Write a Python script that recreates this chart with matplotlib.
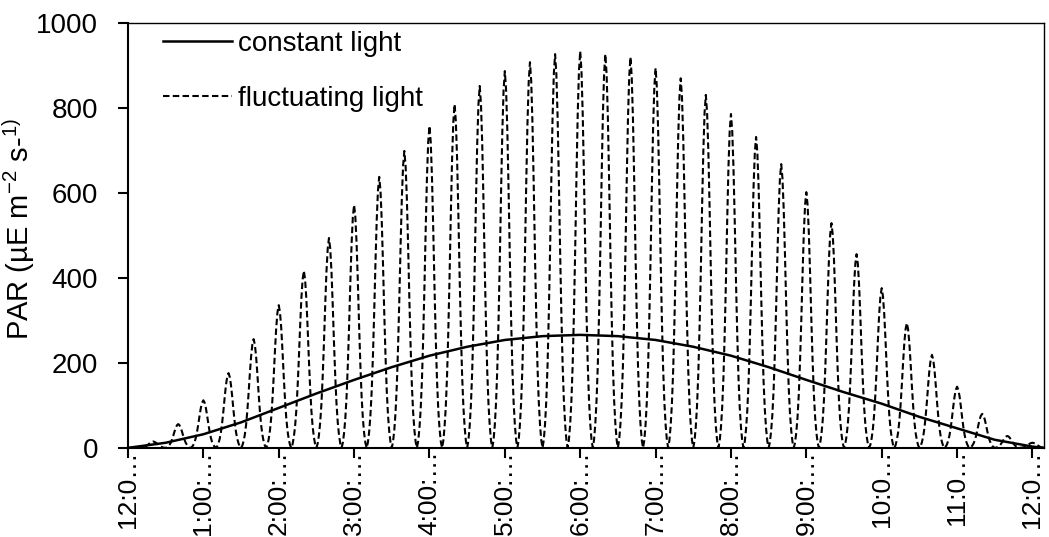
import numpy as np
import matplotlib.pyplot as plt

plt.rcParams['font.family'] = ['Liberation Sans', 'DejaVu Sans']

# constant light, read every half hour (hours after 12:00)
const_hours = [0, 0.5, 1, 1.5, 2, 2.5, 3, 3.5, 4, 4.5, 5, 5.5, 6, 6.5,
               7, 7.5, 8, 8.5, 9, 9.5, 10, 10.5, 11, 11.5, 12, 12.15]
const_par = [0, 12, 32, 60, 94, 128, 160, 190, 217, 238, 254, 263, 266, 263,
             254, 238, 217, 190, 160, 131, 104, 73, 46, 19, 3, 0]

# fluctuating light: one pulse every 20 min, peak heights
pulse_hours = [k / 3 for k in range(37)]
pulse_peaks = [0, 15, 56, 112, 176, 256, 336, 417, 494, 572, 638, 699, 758,
               809, 852, 887, 908, 927, 934, 927, 920, 894, 870, 831, 786,
               732, 668, 602, 529, 456, 376, 294, 219, 144, 80, 28, 12]
# shape of one pulse (fraction of the 20 min cycle -> fraction of peak)
pulse_offset = [-0.5, -0.45, -0.4, -0.35, -0.3, -0.25, -0.2, -0.15, -0.1, -0.05, 0,
                0.05, 0.1, 0.15, 0.2, 0.25, 0.3, 0.35, 0.4, 0.45, 0.5]
pulse_shape = [0.0, 0.02, 0.06, 0.12, 0.21, 0.34, 0.5, 0.68, 0.84, 0.95, 1.0,
               0.95, 0.84, 0.68, 0.5, 0.34, 0.21, 0.12, 0.06, 0.02, 0.0]

tick_hours = list(range(13))
tick_labels = ["12:0…", "1:00:…", "2:00:…", "3:00:…", "4:00:…", "5:00:…", "6:00:…",
               "7:00:…", "8:00:…", "9:00:…", "10:0…", "11:0…", "12:0…"]

fluct_t = []
fluct_v = []
for h, p in zip(pulse_hours, pulse_peaks):
    for o, s in zip(pulse_offset, pulse_shape):
        fluct_t.append(h + o / 3)
        fluct_v.append(p * s)

fig = plt.figure(figsize=(10.49, 5.37), dpi=100)
ax = fig.add_axes([0.122, 0.166, 0.873, 0.791])

ax.plot(const_hours, const_par, color='black', lw=1.8, label='constant light')
ax.plot(fluct_t, fluct_v, color='black', lw=1.5, dashes=(3.1, 1.6),
        label='fluctuating light')

ax.set_xlim(0, 12.15)
ax.set_ylim(0, 1000)
ax.set_yticks([0, 200, 400, 600, 800, 1000])
ax.set_xticks(tick_hours)
ax.set_xticklabels(tick_labels, rotation=90)
ax.tick_params(axis='both', direction='out', length=7.5, width=1.5, colors='black')
ax.tick_params(axis='x', pad=-6, labelsize=19)
ax.tick_params(axis='y', pad=14, labelsize=20)
for side in ['left', 'bottom']:
    ax.spines[side].set_linewidth(1.5)
for side in ['top', 'right']:
    ax.spines[side].set_linewidth(1.0)

ax.set_ylabel('PAR (µE m$^{\\mathregular{-2}}$ s-$^{\\mathregular{1)}}$', fontsize=21)
ax.yaxis.set_label_coords(-0.099, 0.515)

ax.legend(loc='upper left', bbox_to_anchor=(0.026, 1.008), frameon=False,
          fontsize=20, handlelength=2.5, handletextpad=0.2, labelspacing=1.05,
          borderaxespad=0)

fig.savefig('out.png', dpi=100)
